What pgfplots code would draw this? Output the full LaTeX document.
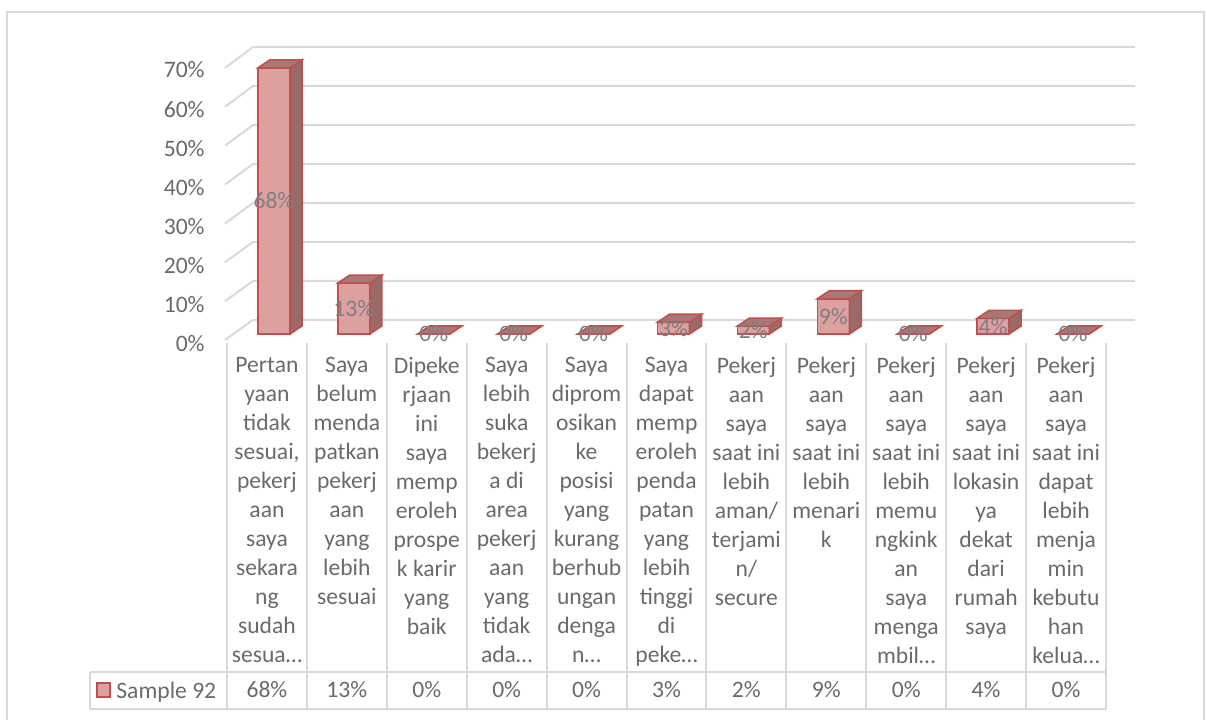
\documentclass[border=0pt]{standalone}
\usepackage{pgfplots}
\pgfplotsset{compat=1.18}
\usepackage{pgfplotstable}
\usepackage{fontspec}
\setmainfont{Carlito}

\definecolor{barred}{HTML}{C0504D}
\definecolor{frontcol}{HTML}{DBA09F}
\definecolor{sidecol}{HTML}{9A6A69}
\definecolor{topcol}{HTML}{A87877}
\definecolor{gridc}{HTML}{D9D9D9}
\definecolor{textgray}{HTML}{6A6A6A}
\definecolor{labgray}{HTML}{7F7F7F}

\pgfplotstableread{
x v
0.5 68
1.5 13
2.5 0
3.5 0
4.5 0
5.5 3
6.5 2
7.5 9
8.5 0
9.5 4
10.5 0
}\data

\pgfdeclareplotmark{bar3d}{%
  \pgfmathsetmacro\hh{\rawv*137/70}%
  \pgfmathsetmacro\bb{4-\hh}%
  \pgfsetlinewidth{0.8pt}%
  \pgfsetstrokecolor{barred}%
  \pgfpathmoveto{\pgfpoint{11.5pt}{0pt}}%
  \pgfpathlineto{\pgfpoint{17.5pt}{4pt}}%
  \pgfpathlineto{\pgfpoint{17.5pt}{\bb pt}}%
  \pgfpathlineto{\pgfpoint{11.5pt}{-\hh pt}}%
  \pgfpathclose
  \pgfsetfillcolor{sidecol}%
  \pgfusepath{fill,stroke}%
  \pgfpathmoveto{\pgfpoint{-4.5pt}{0pt}}%
  \pgfpathlineto{\pgfpoint{11.5pt}{0pt}}%
  \pgfpathlineto{\pgfpoint{17.5pt}{4pt}}%
  \pgfpathlineto{\pgfpoint{1.5pt}{4pt}}%
  \pgfpathclose
  \pgfsetfillcolor{topcol}%
  \pgfusepath{fill,stroke}%
}

\newcommand\chartfont{\fontsize{11.8}{14.5}\selectfont}

\begin{document}
\begin{tikzpicture}
\begin{scope}[x=0.5pt,y=-0.5pt,shift={(0pt,359.5pt)}]
  % outer frame
  \draw[gridc, line width=1pt] (6.5,730) -- (6.5,12.5) -- (1204,12.5) -- (1204,730);
  % back wall gridlines with depth slants
  \foreach \k in {0,...,7} {
    \draw[gridc, line width=1pt] (225,{340-38.86*\k}) -- (253,{320-39*\k}) -- (1135,{320-39*\k});
  }
  % data table lines
  \foreach \k in {0,...,11} {
    \draw[gridc, line width=1pt] ({227+79.9*\k},343) -- ({227+79.9*\k},709);
  }
  \draw[gridc, line width=1pt] (90,672) -- (1107,672);
  \draw[gridc, line width=1pt] (90,709) -- (1107,709);
  \draw[gridc, line width=1pt] (90,672) -- (90,709);
  \draw[barred, fill=frontcol, line width=0.6pt] (97,683) rectangle (110,697);
  \node[anchor=base west, inner sep=0pt, text=textgray, font=\chartfont] at (116,698) {Sample 92};
\end{scope}

\begin{axis}[
  at={(113.5pt,192.5pt)}, anchor=south west,
  scale only axis, width=439.5pt, height=137pt,
  xmin=0, xmax=11, ymin=0, ymax=70,
  clip=false,
  axis line style={draw=none}, tick style={draw=none}, major tick length=0pt,
  xtick={0.5,1.5,2.5,3.5,4.5,5.5,6.5,7.5,8.5,9.5,10.5},
  ytick={0,10,...,70},
  xticklabels={
    {Pertan\\yaan\\tidak\\sesuai,\\pekerj\\aan\\saya\\sekara\\ng\\sudah\\sesua…},
    {Saya\\belum\\menda\\patkan\\pekerj\\aan\\yang\\lebih\\sesuai},
    {Dipeke\\rjaan\\ini\\saya\\memp\\eroleh\\prospe\\k karir\\yang\\baik},
    {Saya\\lebih\\suka\\bekerj\\a di\\area\\pekerj\\aan\\yang\\tidak\\ada…},
    {Saya\\diprom\\osikan\\ke\\posisi\\yang\\kurang\\berhub\\ungan\\denga\\n…},
    {Saya\\dapat\\memp\\eroleh\\penda\\patan\\yang\\lebih\\tinggi\\di\\peke…},
    {Pekerj\\aan\\saya\\saat ini\\lebih\\aman/\\terjami\\n/\\secure},
    {Pekerj\\aan\\saya\\saat ini\\lebih\\menari\\k},
    {Pekerj\\aan\\saya\\saat ini\\lebih\\memu\\ngkink\\an\\saya\\menga\\mbil…},
    {Pekerj\\aan\\saya\\saat ini\\lokasin\\ya\\dekat\\dari\\rumah\\saya},
    {Pekerj\\aan\\saya\\saat ini\\dapat\\lebih\\menja\\min\\kebutu\\han\\kelua…}
  },
  yticklabel={\pgfmathprintnumber{\tick}\%},
  /pgf/number format/assume math mode=true,
  tick label style={font=\chartfont, text=textgray},
  xticklabel style={align=center, anchor=north, inner sep=0pt, yshift=-11.5pt},
  yticklabel style={anchor=east, inner sep=0pt, xshift=-11pt, yshift=-5pt},
]
  % front faces of the columns
  \addplot[ybar, bar width=16pt, bar shift=3.5pt, draw=barred, line width=0.8pt, fill=frontcol]
    table[x=x,y=v]{\data};
  % top and side faces
  \addplot[only marks, mark=bar3d, visualization depends on={\thisrow{v} \as \rawv}]
    table[x=x,y=v]{\data};
  % data labels in the columns
  \addplot[draw=none, mark=none, point meta=explicit,
    nodes near coords={\pgfmathprintnumber{\pgfplotspointmeta}\%},
    every node near coord/.append style={anchor=center, xshift=3.5pt, inner sep=0pt, text=labgray, font=\chartfont}]
    table[x=x, y expr=\thisrow{v}/2, meta=v]{\data};
  % values in the data table row
  \addplot[draw=none, mark=none, point meta=explicit,
    nodes near coords={\pgfmathprintnumber{\pgfplotspointmeta}\%},
    every node near coord/.append style={anchor=center, inner sep=0pt, text=textgray, font=\chartfont}]
    table[x=x, y expr=-90.95, meta=v]{\data};
\end{axis}

\pgfresetboundingbox
\begin{scope}[x=0.5pt,y=-0.5pt,shift={(0pt,359.5pt)}]
  \path[use as bounding box] (0,0) rectangle (1207,719);
\end{scope}
\end{tikzpicture}
\end{document}
